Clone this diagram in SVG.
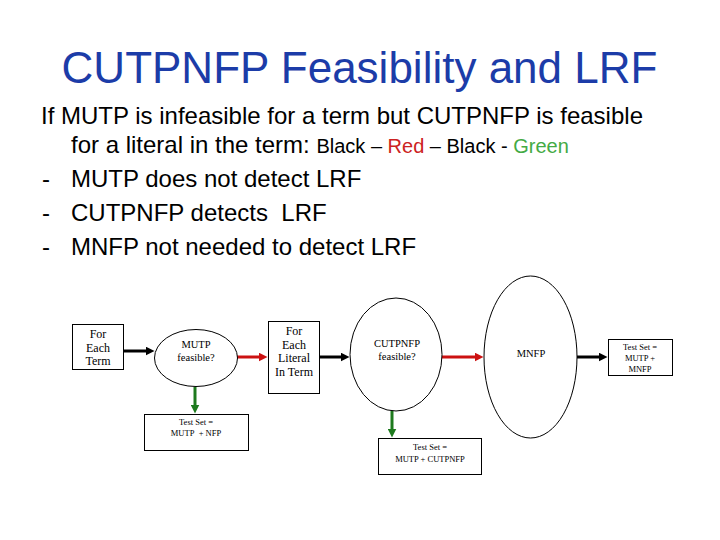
<svg xmlns="http://www.w3.org/2000/svg" width="720" height="540" viewBox="0 0 720 540">
<style>
.title{font-family:"Liberation Sans",Arial,sans-serif;font-size:44px;fill:#1c3ca8}
.body{font-family:"Liberation Sans",Arial,sans-serif;font-size:24px;fill:#000}
.small{font-size:20px}
.node{fill:#fff;stroke:#000;stroke-width:1}
.lbl{font-family:"Liberation Serif","Times New Roman",serif;fill:#000;text-anchor:middle}
.f12{font-size:12px}
.f10{font-size:10.5px}
.f8{font-size:8.5px}
.blk{stroke:#000;stroke-width:3;fill:none}
.red{stroke:#cc1111;stroke-width:3;fill:none}
.grn{stroke:#1e7a1e;stroke-width:3;fill:none}
</style>
<defs>
<marker id="ab" markerUnits="userSpaceOnUse" markerWidth="9" markerHeight="9" viewBox="0 0 9 9" refX="0.5" refY="4.5" orient="auto"><path d="M0,0 L9,4.5 L0,9 z" fill="#000"/></marker>
<marker id="ar" markerUnits="userSpaceOnUse" markerWidth="9" markerHeight="9" viewBox="0 0 9 9" refX="0.5" refY="4.5" orient="auto"><path d="M0,0 L9,4.5 L0,9 z" fill="#cc1111"/></marker>
<marker id="ag" markerUnits="userSpaceOnUse" markerWidth="9" markerHeight="9" viewBox="0 0 9 9" refX="0.5" refY="4.5" orient="auto"><path d="M0,0 L9,4.5 L0,9 z" fill="#1e7a1e"/></marker>
</defs>
<rect width="720" height="540" fill="#fff"/>
<text class="title" x="359.5" y="83" text-anchor="middle">CUTPNFP Feasibility and LRF</text>
<g id="bullets">
<text class="body" x="41" y="124">If MUTP is infeasible for a term but CUTPNFP is feasible</text>
<text class="body" x="71" y="153">for a literal in the term: <tspan class="small">Black – </tspan><tspan class="small" fill="#cc2222">Red</tspan><tspan class="small"> – Black - </tspan><tspan class="small" fill="#44aa44">Green</tspan></text>
<text class="body" x="42" y="187">-</text><text class="body" x="71" y="187">MUTP does not detect LRF</text>
<text class="body" x="42" y="221">-</text><text class="body" x="71" y="221">CUTPNFP detects&#160; LRF</text>
<text class="body" x="42" y="255">-</text><text class="body" x="71" y="255">MNFP not needed to detect LRF</text>
</g>
<g id="connectors">
<line class="blk" x1="123" y1="351" x2="146" y2="351" marker-end="url(#ab)"/>
<line class="red" x1="237" y1="357" x2="259" y2="357" marker-end="url(#ar)"/>
<line class="blk" x1="319" y1="357" x2="341" y2="357" marker-end="url(#ab)"/>
<line class="red" x1="442" y1="357" x2="475" y2="357" marker-end="url(#ar)"/>
<line class="blk" x1="577" y1="357" x2="599" y2="357" marker-end="url(#ab)"/>
<line class="grn" x1="195" y1="387" x2="195" y2="405" marker-end="url(#ag)"/>
<line class="grn" x1="392" y1="411" x2="392" y2="429" marker-end="url(#ag)"/>
</g>
<g id="forEachTerm">
<rect class="node" x="72.5" y="324.5" width="51" height="45"/>
<text class="lbl f12" x="98" y="338">For</text>
<text class="lbl f12" x="98" y="351.5">Each</text>
<text class="lbl f12" x="98" y="365">Term</text>
</g>
<g id="mutpFeasible">
<ellipse class="node" cx="196" cy="358" rx="41.5" ry="28.5"/>
<text class="lbl f10" x="196" y="348">MUTP</text>
<text class="lbl f10" x="196" y="361">feasible?</text>
</g>
<g id="forEachLiteral">
<rect class="node" x="268.5" y="321.5" width="51" height="72"/>
<text class="lbl f12" x="294" y="335">For</text>
<text class="lbl f12" x="294" y="348.5">Each</text>
<text class="lbl f12" x="294" y="362">Literal</text>
<text class="lbl f12" x="294" y="375.5">In Term</text>
</g>
<g id="cutpnfpFeasible">
<ellipse class="node" cx="396" cy="354.5" rx="46" ry="56.5"/>
<text class="lbl f10" x="397" y="347">CUTPNFP</text>
<text class="lbl f10" x="397" y="360">feasible?</text>
</g>
<g id="mnfp">
<ellipse class="node" cx="530.5" cy="357" rx="46.5" ry="81"/>
<text class="lbl f10" x="531" y="357">MNFP</text>
</g>
<g id="testSetMutpNfp">
<rect class="node" x="144.5" y="414.5" width="104" height="36"/>
<text class="lbl f8" x="196" y="425">Test Set =</text>
<text class="lbl f8" x="196" y="436">MUTP&#160; + NFP</text>
</g>
<g id="testSetMutpCutpnfp">
<rect class="node" x="378.5" y="438.5" width="103" height="36"/>
<text class="lbl f8" x="430" y="450">Test Set =</text>
<text class="lbl f8" x="430" y="462">MUTP + CUTPNFP</text>
</g>
<g id="testSetMutpMnfp">
<rect class="node" x="608.5" y="339.5" width="64" height="36"/>
<text class="lbl f8" x="640" y="350">Test Set =</text>
<text class="lbl f8" x="640" y="361">MUTP +</text>
<text class="lbl f8" x="640" y="372">MNFP</text>
</g>
</svg>
